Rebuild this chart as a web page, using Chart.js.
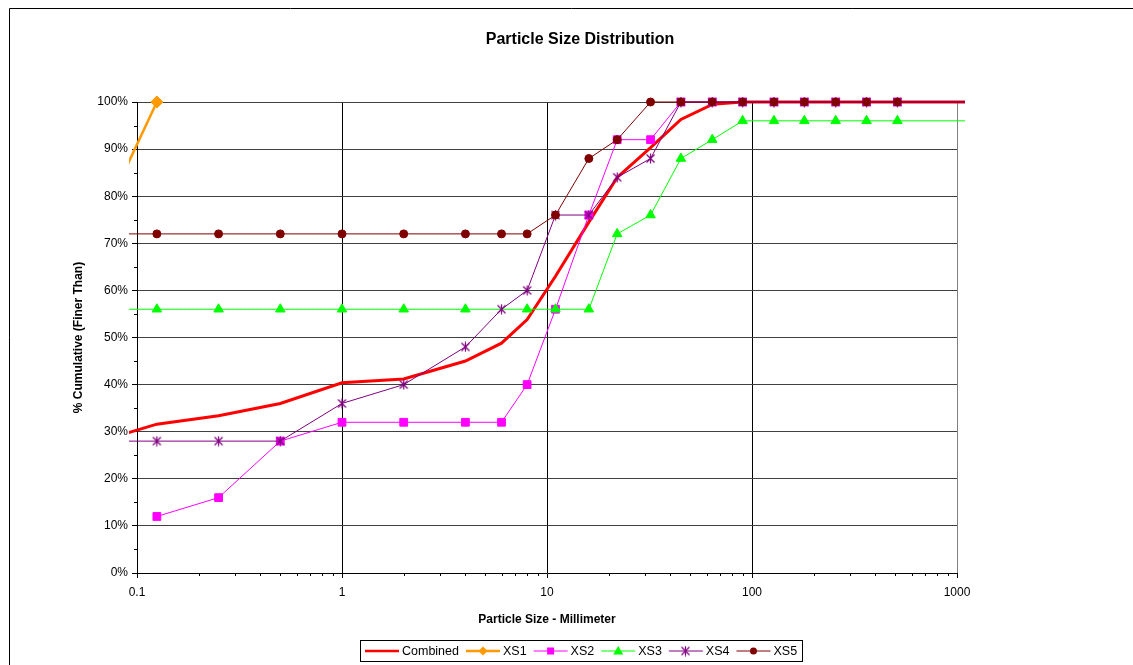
<!DOCTYPE html>
<html>
<head>
<meta charset="utf-8">
<title>Particle Size Distribution</title>
<script src="https://cdn.jsdelivr.net/npm/chart.js@4/dist/chart.umd.min.js"></script>
<style>
  html, body { margin: 0; padding: 0; background: #fff; }
  #wrap { width: 1133px; height: 665px; position: relative; }
</style>
</head>
<body>
<div id="wrap"><canvas id="psd" width="1133" height="665"></canvas></div>
<script>
// Sieve sizes (mm) and cumulative percent finer for each sample
const sizesMm  = [0.0625, 0.125, 0.25, 0.5, 1, 2, 4, 6, 8, 11, 16, 22, 32, 45, 64, 90, 128, 180, 256, 362, 512, 2048];
const combined = [27.7, 31.6, 33.4, 36, 40.4, 41.2, 45, 48.8, 53.8, 63, 74.5, 84, 90.3, 96.3, 99.5, 100, 100, 100, 100, 100, 100, 100];
const xs1      = [72, 100, null, null, null, null, null, null, null, null, null, null, null, null, null, null, null, null, null, null, null, null];
const xs2      = [null, 12, 16, 28, 32, 32, 32, 32, 40, 56, 76, 92, 92, 100, 100, 100, 100, 100, 100, 100, 100, 100];
const xs3      = [56, 56, 56, 56, 56, 56, 56, null, 56, 56, 56, 72, 76, 88, 92, 96, 96, 96, 96, 96, 96, 96];
const xs4      = [28, 28, 28, 28, 36, 40, 48, 56, 60, 76, 76, 84, 88, 100, 100, 100, 100, 100, 100, 100, 100, 100];
const xs5      = [72, 72, 72, 72, 72, 72, 72, 72, 72, 76, 88, 92, 100, 100, 100, 100, 100, 100, 100, 100, 100, 100];

const seriesNames = ['Combined', 'XS1', 'XS2', 'XS3', 'XS4', 'XS5'];
const xTickValues = [0.1, 1, 10, 100, 1000];
const yTickValues = [0, 10, 20, 30, 40, 50, 60, 70, 80, 90, 100];

const FONT = '"Liberation Sans", Arial, sans-serif';

// Excel-style asterisk marker (X with a vertical bar)
function makeStar(color) {
  const c = document.createElement('canvas');
  c.width = 11; c.height = 11;
  const g = c.getContext('2d');
  g.strokeStyle = color; g.lineWidth = 1.2;
  g.beginPath();
  g.moveTo(1.5, 1.5); g.lineTo(9.5, 9.5);
  g.moveTo(9.5, 1.5); g.lineTo(1.5, 9.5);
  g.moveTo(5.5, 0.5); g.lineTo(5.5, 10.5);
  g.stroke();
  return c;
}
const starImg = makeStar('#800080');

const toPoints = vals => sizesMm.map((s, i) => ({ x: s, y: vals[i] }));
const clipBox = { left: 8, top: 8, right: 8, bottom: 0 };

const styles = [
  { color: '#FF0000', width: 3,   point: false,      radius: 0 },
  { color: '#FF9900', width: 2.5, point: 'rectRot',  radius: 6 },
  { color: '#FF00FF', width: 1,   point: 'rect',     radius: 5.5 },
  { color: '#00FF00', width: 1,   point: 'triangle', radius: 5.5 },
  { color: '#800080', width: 1,   point: starImg,    radius: 5 },
  { color: '#800000', width: 1,   point: 'circle',   radius: 4 }
];
const seriesValues = [combined, xs1, xs2, xs3, xs4, xs5];

const datasets = seriesValues.map((vals, i) => ({
  label: seriesNames[i],
  data: toPoints(vals),
  borderColor: styles[i].color,
  backgroundColor: styles[i].color,
  borderWidth: styles[i].width,
  pointStyle: styles[i].point,
  pointRadius: styles[i].radius,
  pointHoverRadius: styles[i].radius,
  pointBorderWidth: 1,
  pointBorderColor: styles[i].color,
  pointBackgroundColor: styles[i].color,
  tension: 0,
  spanGaps: true,
  clip: clipBox,
  order: 5 - i
}));

// Frame, title, axis titles, minor ticks and legend
const decorations = {
  id: 'decorations',
  afterDraw(chart) {
    const ctx = chart.ctx;
    const xs = chart.scales.x, ys = chart.scales.y;
    const area = chart.chartArea;
    ctx.save();

    // outer frame
    ctx.strokeStyle = '#000';
    ctx.lineWidth = 1;
    ctx.beginPath();
    ctx.moveTo(9.5, 700); ctx.lineTo(9.5, 8.5); ctx.lineTo(1200, 8.5);
    ctx.stroke();

    // minor ticks on the log axis
    ctx.beginPath();
    for (let d = 0.1; d < 1000; d *= 10) {
      for (let m = 2; m <= 9; m++) {
        const px = Math.round(xs.getPixelForValue(d * m)) + 0.5;
        ctx.moveTo(px, area.bottom); ctx.lineTo(px, area.bottom + 3);
      }
    }
    // minor ticks on the percent axis
    for (let v = 5; v < 100; v += 10) {
      const py = Math.round(ys.getPixelForValue(v)) + 0.5;
      ctx.moveTo(area.left - 3, py); ctx.lineTo(area.left, py);
    }
    ctx.stroke();

    // chart title
    ctx.fillStyle = '#000';
    ctx.textAlign = 'center';
    ctx.textBaseline = 'middle';
    ctx.font = 'bold 16px ' + FONT;
    ctx.fillText('Particle Size Distribution', 580, 40);

    // axis titles
    ctx.font = 'bold 12px ' + FONT;
    ctx.fillText('Particle Size - Millimeter', (area.left + area.right) / 2, 620);
    ctx.save();
    ctx.translate(79, (area.top + area.bottom) / 2);
    ctx.rotate(-Math.PI / 2);
    ctx.fillText('% Cumulative (Finer Than)', 0, 0);
    ctx.restore();

    // legend
    ctx.font = '12.5px ' + FONT;
    ctx.textAlign = 'left';
    const ly = 651;
    let lx = 365;
    const items = [];
    seriesNames.forEach((name, i) => {
      const w = ctx.measureText(name).width;
      items.push({ name, x: lx, w });
      lx += 34 + 3 + w + 7;
    });
    const boxLeft = 360.5, boxRight = Math.round(lx - 2) + 0.5;
    ctx.strokeStyle = '#000';
    ctx.lineWidth = 1;
    ctx.strokeRect(boxLeft, 640.5, boxRight - boxLeft, 21);

    items.forEach((it, i) => {
      const st = styles[i];
      ctx.strokeStyle = st.color;
      ctx.lineWidth = st.width === 1 ? 1 : 2.5;
      ctx.beginPath();
      ctx.moveTo(it.x, ly); ctx.lineTo(it.x + 34, ly);
      ctx.stroke();
      const cx = it.x + 17;
      ctx.fillStyle = st.color;
      ctx.beginPath();
      if (st.point === 'rectRot') {
        ctx.moveTo(cx, ly - 4.5); ctx.lineTo(cx + 4.5, ly); ctx.lineTo(cx, ly + 4.5); ctx.lineTo(cx - 4.5, ly);
        ctx.closePath(); ctx.fill();
      } else if (st.point === 'rect') {
        ctx.fillRect(cx - 3.5, ly - 3.5, 7, 7);
      } else if (st.point === 'triangle') {
        ctx.moveTo(cx, ly - 5); ctx.lineTo(cx + 5, ly + 3.5); ctx.lineTo(cx - 5, ly + 3.5);
        ctx.closePath(); ctx.fill();
      } else if (st.point === 'circle') {
        ctx.arc(cx, ly, 3.5, 0, Math.PI * 2); ctx.fill();
      } else if (st.point === starImg) {
        ctx.drawImage(starImg, Math.round(cx - 5.5), ly - 5.5);
      }
      ctx.fillStyle = '#000';
      ctx.fillText(it.name, it.x + 37, ly + 0.5);
    });

    ctx.restore();
  }
};

new Chart(document.getElementById('psd'), {
  type: 'line',
  data: { datasets },
  options: {
    responsive: false,
    animation: false,
    events: [],
    layout: { padding: { left: 0, top: 102, right: 176, bottom: 0 } },
    plugins: {
      legend: { display: false },
      title: { display: false },
      tooltip: { enabled: false }
    },
    scales: {
      x: {
        type: 'logarithmic',
        min: 0.1,
        max: 1000,
        afterFit(scale) { scale.height = 92; },
        afterBuildTicks(scale) { scale.ticks = xTickValues.map(v => ({ value: v })); },
        ticks: {
          color: '#000',
          font: { family: FONT, size: 12 },
          padding: 7,
          autoSkip: false,
          maxRotation: 0,
          callback: v => String(v)
        },
        grid: {
          color: c => (c.tick && c.tick.value === 1000) ? '#808080' : (c.tick && c.tick.value === 0.1 ? 'rgba(0,0,0,0)' : '#000'),
          lineWidth: 1,
          tickColor: '#000',
          tickLength: 5,
          drawTicks: true
        },
        border: { display: true, color: '#000', width: 1 }
      },
      y: {
        type: 'linear',
        min: 0,
        max: 100,
        afterFit(scale) { scale.width = 137; },
        afterBuildTicks(scale) { scale.ticks = yTickValues.map(v => ({ value: v })); },
        ticks: {
          color: '#000',
          font: { family: FONT, size: 12 },
          padding: 4,
          callback: v => v + '%'
        },
        grid: {
          color: c => (c.tick && c.tick.value === 0) ? 'rgba(0,0,0,0)' : '#404040',
          lineWidth: 1,
          tickColor: '#000',
          tickLength: 5,
          drawTicks: true
        },
        border: { display: true, color: '#000', width: 1 }
      }
    }
  },
  plugins: [decorations]
});
</script>
</body>
</html>
